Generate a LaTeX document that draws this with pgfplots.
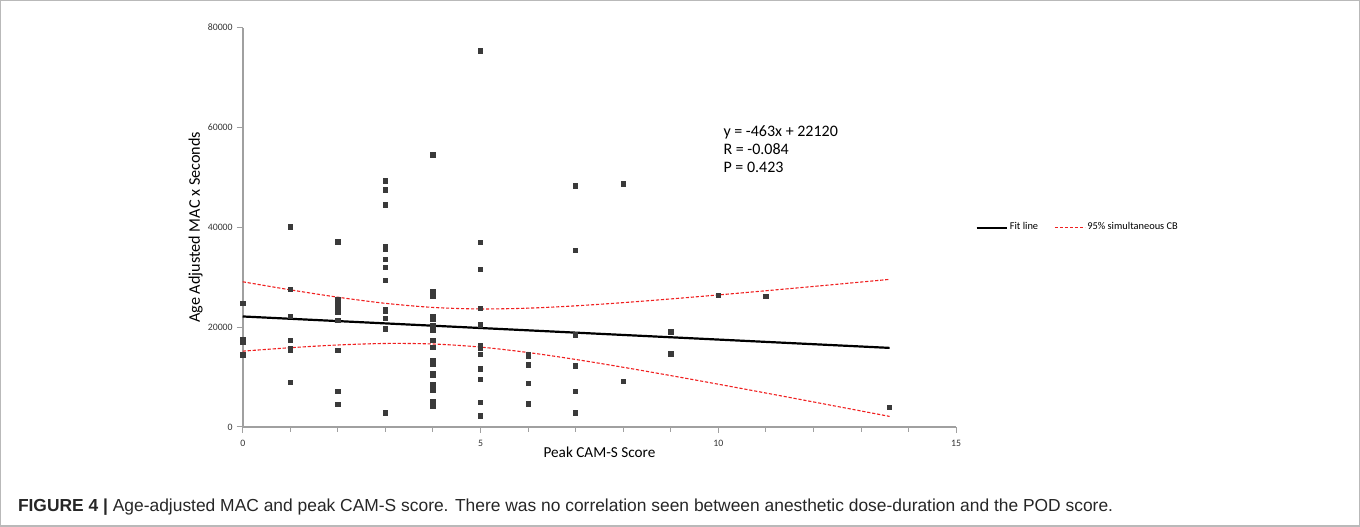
\documentclass[border=0pt]{standalone}
\usepackage{fontspec}
\setmainfont{Carlito}
\newfontfamily\capfont{Liberation Sans}
\usepackage{pgfplots}
\pgfplotsset{compat=1.18}

\definecolor{markgray}{HTML}{3A3A3A}
\definecolor{axgray}{HTML}{A0A0A0}
\definecolor{cbred}{HTML}{F02020}

\begin{document}
\begin{tikzpicture}
\begin{axis}[
  scale only axis, width=356.5pt, height=199.5pt,
  xmin=0, xmax=15, ymin=0, ymax=80000,
  axis lines=left, axis line style={draw=axgray, line width=0.8pt, -},
  xtick={0,5,10,15}, minor xtick={1,2,3,4,6,7,8,9,11,12,13,14},
  ytick={0,20000,40000,60000,80000},
  tick align=outside, major tick length=3pt, minor tick length=2.5pt,
  every tick/.style={draw=axgray, line width=0.5pt},
  scaled y ticks=false,
  /pgf/number format/assume math mode=true,
  /pgf/number format/1000 sep={},
  tick label style={font=\fontsize{4.9}{5.5}\selectfont, text=black!80},
  yticklabel style={xshift=1.5pt},
  xlabel={Peak CAM-S Score},
  ylabel={Age Adjusted MAC x Seconds},
  xlabel style={font=\fontsize{7.6}{9}\selectfont, at={(axis description cs:0.5,-0.064)}, anchor=center},
  ylabel style={font=\fontsize{8.1}{9}\selectfont, at={(axis description cs:-0.066,0.5)}, anchor=center},
  legend style={at={(axis description cs:1.0266,0.499)}, anchor=west, draw=none,
    inner sep=0pt, nodes={inner sep=1pt},
    legend columns=2, font=\fontsize{5.2}{6}\selectfont,
    /tikz/every even column/.append style={column sep=7pt}},
  legend image code/.code={\draw[#1] (0pt,0pt) -- (15pt,0pt);},
  clip=false,
]
\addplot[only marks, mark=square*, mark size=1.1pt, draw=markgray, fill=markgray, forget plot]
coordinates {
  (0,24700) (0,17400) (0,17000) (0,14400)
  (1,40100) (1,27600) (1,22100) (1,17300) (1,15600) (1,15400) (1,8900)
  (2,37100) (2,25400) (2,24200) (2,23700) (2,22900) (2,21300) (2,15300) (2,7100) (2,4500)
  (3,49300) (3,47500) (3,44500) (3,36100) (3,35500) (3,33500) (3,31900) (3,29300)
  (3,23400) (3,23100) (3,21700) (3,19600) (3,2900) (3,2700)
  (4,54500) (4,27100) (4,26600) (4,26100) (4,22100) (4,21600) (4,20300) (4,19400)
  (4,17300) (4,15900) (4,13300) (4,12900) (4,12500) (4,10700) (4,10300) (4,8400)
  (4,7300) (4,5100) (4,4200)
  (5,75300) (5,37000) (5,31600) (5,23700) (5,20400) (5,16200) (5,15800) (5,14500)
  (5,11600) (5,9500) (5,4900) (5,2200)
  (6,14500) (6,14100) (6,12400) (6,8700) (6,4600)
  (7,48300) (7,35300) (7,18400) (7,12200) (7,7100) (7,2800)
  (8,48700) (8,9100)
  (9,19000) (9,14600)
  (10,26400) (11,26100) (13.6,3900)
};
% fit line y = -463x + 22120
\addplot[black, line width=1.1pt] coordinates {(0,22120) (13.6,15823)};
\addlegendentry{Fit line}
% 95% simultaneous confidence band
\addplot[cbred, line width=0.55pt, dash pattern=on 1.6pt off 0.9pt, smooth] coordinates {
  (0,29069) (1,27456) (2,25981) (3,24753) (4,23929) (5,23625) (6,23786) (7,24252)
  (8,24893) (9,25634) (10,26435) (11,27274) (12,28137) (13,29018) (13.6,29552)
};
\addlegendentry{95\% simultaneous CB}
\addplot[cbred, line width=0.55pt, dash pattern=on 1.6pt off 0.9pt, smooth, forget plot] coordinates {
  (0,15171) (1,15858) (2,16407) (3,16709) (4,16607) (5,15985) (6,14898) (7,13506)
  (8,11939) (9,10272) (10,8545) (11,6780) (12,4991) (13,3184) (13.6,2094)
};
\node[anchor=north west, align=left, inner sep=0pt, font=\fontsize{8}{9.2}\selectfont]
  at (axis cs:10.1,60500) {y = -463x + 22120\\R = -0.084\\P = 0.423};
\end{axis}
\draw[gray!55, line width=0.6pt] (-121pt,-49.5pt) rectangle (558pt,213pt);
\node[anchor=base west, inner sep=0pt, text=black!85] at (-112.5pt,-42.5pt)
  {\capfont\fontsize{8.7}{10}\selectfont\textbf{FIGURE 4 |} Age-adjusted MAC and peak CAM-S score. There was no correlation seen between anesthetic dose-duration and the POD score.};
\end{tikzpicture}
\end{document}
